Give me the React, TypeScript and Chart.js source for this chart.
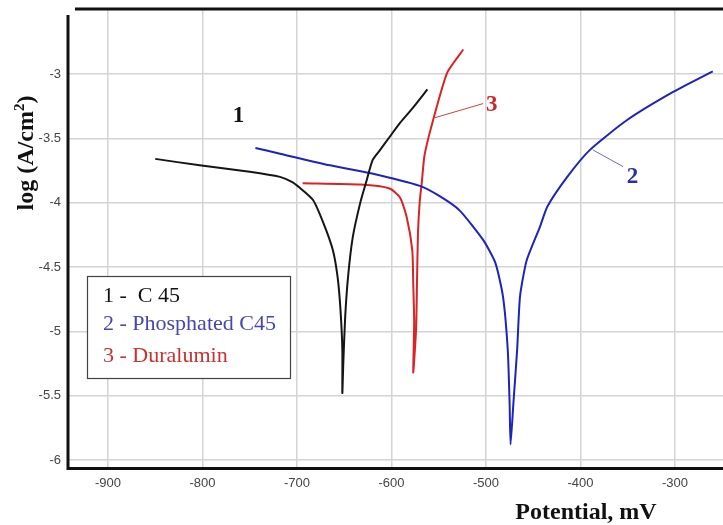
import React, { useEffect, useRef } from "react";
import { Chart, registerables } from "chart.js";
Chart.register(...registerables);

const xTickValues = [-900, -800, -700, -600, -500, -400, -300];
const yTickValues = [-6, -5.5, -5, -4.5, -4, -3.5, -3];

const seriesNames = ["C 45", "Phosphated C45", "Duralumin"];

const c45Potential = [-850, -803, -750, -718, -705, -697, -683, -672, -662, -657, -654, -652, -652, -651, -649, -646, -641, -633, -626, -620, -612, -602, -591, -577, -562];
const c45LogI = [-3.66, -3.71, -3.76, -3.80, -3.84, -3.885, -3.98, -4.16, -4.37, -4.58, -4.83, -5.14, -5.48, -5.25, -4.89, -4.58, -4.27, -4.0, -3.82, -3.67, -3.59, -3.49, -3.38, -3.26, -3.12];

const phosPotential = [-744, -718, -665, -623, -570, -549, -528, -503, -490, -482, -477, -475, -474, -471, -467, -464, -457, -443, -435, -414, -390, -351, -302, -260];
const phosLogI = [-3.575, -3.62, -3.71, -3.77, -3.87, -3.95, -4.06, -4.29, -4.47, -4.73, -5.14, -5.56, -5.88, -5.56, -5.14, -4.73, -4.45, -4.19, -4.03, -3.8, -3.59, -3.36, -3.14, -2.98];

const duralPotential = [-694, -633, -602, -591, -584, -578, -577, -576, -577, -574, -573, -572, -570, -568, -565, -556, -541, -524];
const duralLogI = [-3.85, -3.86, -3.89, -3.96, -4.11, -4.37, -4.62, -4.93, -5.32, -4.99, -4.62, -4.24, -3.98, -3.85, -3.63, -3.36, -2.99, -2.81];

const COLORS = ["#151515", "#1e22c0", "#d82424"];
const LEGEND_COLORS = ["#111111", "#4646b0", "#cc3030"];

const toPoints = (xs: number[], ys: number[]) => xs.map((x, i) => ({ x, y: ys[i] }));

const overlayPlugin = {
  id: "overlay",
  afterDraw(chart: any) {
    const ctx = chart.ctx as CanvasRenderingContext2D;
    const { left, top, right, bottom } = chart.chartArea;
    const xs = chart.scales.x;
    const ys = chart.scales.y;
    const px = (v: number) => xs.getPixelForValue(v);
    const py = (v: number) => ys.getPixelForValue(v);
    ctx.save();

    // frame
    ctx.strokeStyle = "#111";
    ctx.lineWidth = 3;
    ctx.beginPath();
    ctx.moveTo(left + 7, top);
    ctx.lineTo(right, top);
    ctx.stroke();
    ctx.beginPath();
    ctx.moveTo(left, top + 6);
    ctx.lineTo(left, bottom + 1.5);
    ctx.lineTo(right, bottom + 1.5);
    ctx.stroke();

    // leader lines
    ctx.lineWidth = 1;
    ctx.strokeStyle = "#d04040";
    ctx.beginPath();
    ctx.moveTo(px(-554), py(-3.34));
    ctx.lineTo(px(-503), py(-3.23));
    ctx.stroke();
    ctx.strokeStyle = "#6a70a0";
    ctx.beginPath();
    ctx.moveTo(px(-387), py(-3.59));
    ctx.lineTo(px(-355), py(-3.72));
    ctx.stroke();

    // curve labels
    ctx.font = "bold 23px 'Liberation Serif'";
    ctx.textAlign = "center";
    ctx.textBaseline = "middle";
    ctx.fillStyle = "#111";
    ctx.fillText("1", px(-762), py(-3.33));
    ctx.fillStyle = "#c82828";
    ctx.fillText("3", px(-494), py(-3.24));
    ctx.fillStyle = "#2a2ea8";
    ctx.fillText("2", px(-345), py(-3.8));

    // legend box
    const bx = left + 19, by = top + 267, bw = 203, bh = 102;
    ctx.fillStyle = "#fff";
    ctx.fillRect(bx, by, bw, bh);
    ctx.strokeStyle = "#444";
    ctx.lineWidth = 1.2;
    ctx.strokeRect(bx + 0.5, by + 0.5, bw, bh);
    ctx.font = "22px 'Liberation Serif'";
    ctx.textAlign = "left";
    ctx.textBaseline = "alphabetic";
    const baselines = [by + 26, by + 54, by + 86];
    seriesNames.forEach((name, i) => {
      ctx.fillStyle = LEGEND_COLORS[i];
      const sep = i === 0 ? " -  " : " - ";
      ctx.fillText(`${i + 1}${sep}${name}`, bx + 16, baselines[i]);
    });

    // axis titles
    ctx.fillStyle = "#111";
    ctx.font = "bold 24px 'Liberation Serif'";
    ctx.textAlign = "center";
    ctx.textBaseline = "middle";
    ctx.fillText("Potential, mV", 586, 513);

    ctx.save();
    ctx.translate(25, 153);
    ctx.rotate(-Math.PI / 2);
    const main = "log (A/cm";
    const sup = "2";
    const close = ")";
    ctx.font = "bold 24px 'Liberation Serif'";
    const wMain = ctx.measureText(main).width;
    const wClose = ctx.measureText(close).width;
    ctx.font = "bold 15px 'Liberation Serif'";
    const wSup = ctx.measureText(sup).width;
    const total = wMain + wSup + wClose;
    let cx = -total / 2;
    ctx.textAlign = "left";
    ctx.textBaseline = "alphabetic";
    ctx.font = "bold 24px 'Liberation Serif'";
    ctx.fillText(main, cx, 8);
    cx += wMain;
    ctx.font = "bold 15px 'Liberation Serif'";
    ctx.fillText(sup, cx, -1);
    cx += wSup;
    ctx.font = "bold 24px 'Liberation Serif'";
    ctx.fillText(close, cx, 8);
    ctx.restore();

    ctx.restore();
  },
};

export default function App() {
  const canvasRef = useRef<HTMLCanvasElement | null>(null);

  useEffect(() => {
    if (!canvasRef.current) return;
    const chart = new Chart(canvasRef.current, {
      type: "scatter",
      data: {
        datasets: [
          { label: seriesNames[0], data: toPoints(c45Potential, c45LogI) },
          { label: seriesNames[1], data: toPoints(phosPotential, phosLogI) },
          { label: seriesNames[2], data: toPoints(duralPotential, duralLogI) },
        ].map((d, i) => ({
          ...d,
          showLine: true,
          borderColor: COLORS[i],
          backgroundColor: COLORS[i],
          borderWidth: 2,
          pointRadius: 0,
          tension: 0.2,
        })),
      },
      options: {
        animation: false,
        responsive: false,
        layout: { padding: { top: 9, left: 0, right: 0, bottom: 0 } },
        plugins: { legend: { display: false }, tooltip: { enabled: false } },
        scales: {
          x: {
            type: "linear",
            min: -942.3,
            max: -249.2,
            afterBuildTicks: (s: any) => {
              s.ticks = xTickValues.map((v) => ({ value: v }));
            },
            afterFit: (s: any) => {
              s.height = 58;
              s.paddingLeft = 0;
              s.paddingRight = 0;
            },
            grid: { color: "#d4d4d4", lineWidth: 1.5, drawTicks: false },
            border: { display: false },
            ticks: {
              color: "#444",
              font: { family: "'Liberation Sans'", size: 13 },
              padding: 9,
              maxRotation: 0,
              callback: (v: any) => `${v}`,
            },
          },
          y: {
            type: "linear",
            min: -6.055,
            max: -2.495,
            afterBuildTicks: (s: any) => {
              s.ticks = yTickValues.map((v) => ({ value: v }));
            },
            afterFit: (s: any) => {
              s.width = 68;
              s.paddingTop = 0;
              s.paddingBottom = 0;
            },
            grid: { color: "#d4d4d4", lineWidth: 1.5, drawTicks: false },
            border: { display: false },
            ticks: {
              color: "#444",
              font: { family: "'Liberation Sans'", size: 13 },
              padding: 7,
              callback: (v: any) => `${v}`,
            },
          },
        },
      },
      plugins: [overlayPlugin],
    });
    return () => chart.destroy();
  }, []);

  return (
    <div style={{ position: "absolute", left: 0, top: 0, width: 723, height: 525, background: "#fff" }}>
      <canvas ref={canvasRef} width={723} height={525} />
    </div>
  );
}
